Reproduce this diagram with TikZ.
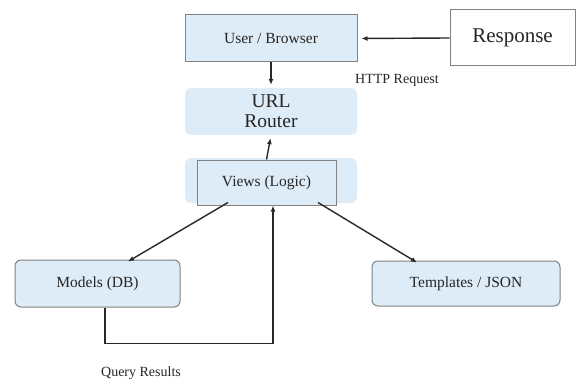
\documentclass[tikz,border=0pt]{standalone}
\usepackage{fontspec}
\setmainfont{Liberation Serif}
\usepackage{xcolor}
\usetikzlibrary{arrows.meta}

\definecolor{boxblue}{RGB}{221,236,247}
\definecolor{boxline}{RGB}{130,130,130}
\definecolor{arrowgray}{RGB}{40,40,40}

\begin{document}
\begin{tikzpicture}
  [x=1pt,y=-1pt,
   every node/.style={inner sep=0pt,fill=boxblue,text=black!85,font=\fontsize{15.5}{18}\selectfont},
   plainbox/.style={draw=boxline,line width=1pt},
   roundbox/.style={rounded corners=6pt},
   label/.style={fill=none,font=\fontsize{14}{16}\selectfont},
   flow/.style={draw=arrowgray,line width=1.4pt,-{Latex[length=6pt,width=5pt]}}]
  \useasboundingbox[fill=white] (0,0) rectangle (578,385);

  \node[plainbox,minimum width=172pt,minimum height=47pt] (user) at (271,38.5) {User / Browser};
  \node[plainbox,fill=white,minimum width=125pt,minimum height=56pt,
        font=\fontsize{21}{24}\selectfont] (resp) at (512.5,38) {Response};
  \node[roundbox,minimum width=172pt,minimum height=47pt,align=center,
        font=\fontsize{19.5}{20}\selectfont] (url) at (271,111.5) {URL\\Router};
  \node[roundbox,minimum width=172pt,minimum height=45pt] (viewsbg) at (271,180.5) {};
  \node[plainbox,minimum width=139pt,minimum height=45pt] (views) at (266.5,182.5) {Views (Logic)};
  \node[plainbox,roundbox,minimum width=165pt,minimum height=47pt] (models) at (97.5,283.5) {Models (DB)};
  \node[plainbox,roundbox,minimum width=188pt,minimum height=45pt] (tmpl) at (466,283.5) {Templates / JSON};
  \node[label] (http) at (397,80) {HTTP Request};
  \node[label] (query) at (141,373) {Query Results};

  \draw[flow,shorten >=4pt] (resp.west) -- (user.east);
  \draw[flow,shorten >=3pt] (user.south) -- (url.north);
  \draw[flow,shorten >=3pt] (views.north) -- (url.south);
  \draw[flow] ([xshift=-38.5pt,yshift=3pt]views.south) -- ([xshift=30.5pt,yshift=-2pt]models.north);
  \draw[flow] ([xshift=51.5pt,yshift=3pt]views.south) -- ([xshift=-49pt,yshift=-2pt]tmpl.north);
  \draw[flow] ([xshift=7.5pt]models.south) -- ++(0,36) -| ([xshift=6.5pt]views.south);

\end{tikzpicture}
\end{document}
